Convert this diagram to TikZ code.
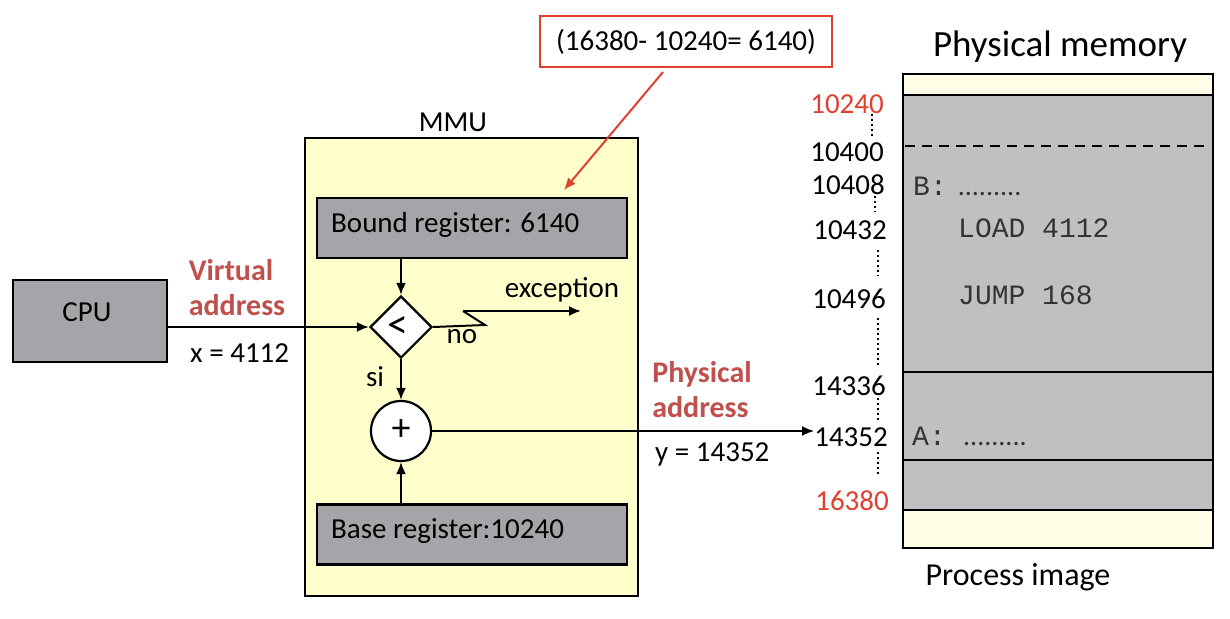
\documentclass[tikz,border=0pt]{standalone}
\usepackage{fontspec}
\setmainfont{Carlito}
\newfontfamily\monof{Liberation Mono}
\usetikzlibrary{arrows.meta,shapes.geometric}
\definecolor{regfill}{HTML}{A6A4A8}
\definecolor{memgray}{HTML}{C0C0C0}
\definecolor{cream}{HTML}{FFFDE6}
\definecolor{mmuyellow}{HTML}{FFFFCC}
\definecolor{addrred}{HTML}{E0402E}
\definecolor{labred}{HTML}{C0504D}
\tikzset{
  txt/.style={font=\fontsize{29}{34}\selectfont, inner sep=0pt},
  reg/.style={draw, line width=2.4pt, fill=regfill, minimum width=310pt, minimum height=60pt, inner sep=0pt},
  lab/.style={font=\bfseries\fontsize{30}{35}\selectfont, text=labred, inner sep=0pt, align=left},
  num/.style={font=\fontsize{29}{32}\selectfont, inner sep=0pt, anchor=east},
  mono/.style={font=\monof\fontsize{28}{32}\selectfont, inner sep=0pt, anchor=west, text=black!80},
  arr/.style={line width=2pt, -{Latex[length=12pt,width=10pt]}},
  dots/.style={line width=2.2pt, dash pattern=on 2pt off 3pt},
  sec/.style={draw, line width=2.4pt}
}
\begin{document}
\begin{tikzpicture}[x=1pt,y=-1pt]
\useasboundingbox (0,0) rectangle (1230,618);
% title and box
\node[txt, font=\fontsize{37}{42}\selectfont] (title) at (1060,47) {Physical memory};
\node[txt, font=\fontsize{32}{36}\selectfont] (pimg) at (1018,577) {Process image};
% memory sections
\path[sec, fill=cream] (903,74) rectangle (1213,95);
\path[sec, fill=memgray] (903,95) rectangle (1213,372);
\path[sec, fill=memgray] (903,372) rectangle (1213,460);
\path[sec, fill=memgray] (903,460) rectangle (1213,510);
\path[sec, fill=cream] (903,510) rectangle (1213,548);
\coordinate (dl) at (905,146);
\coordinate (dr) at (1211,146);
\draw[line width=2.2pt, dash pattern=on 10pt off 7pt] (dl) -- (dr);
% memory contents
\node[mono] (bl) at (913,186) {B:\rmfamily\ \,.........};
\node[mono] (ld) at (958,228) {LOAD 4112};
\node[mono] (jp) at (958,295) {JUMP 168};
\node[mono] (al) at (912,436) {A:\rmfamily\ \ \,.........};
% addresses
\node[num, text=addrred] (a1) at (884,104) {10240};
\node[num] (a2) at (884,152) {10400};
\node[num] (a3) at (885,185) {10408};
\node[num] (a4) at (887,230) {10432};
\node[num] (a5) at (886,299) {10496};
\node[num] (a6) at (886,386) {14336};
\node[num] (a7) at (888,437) {14352};
\node[num, text=addrred] (a8) at (889,501) {16380};
\coordinate (d1a) at (872,114); \coordinate (d1b) at (872,137);
\coordinate (d2a) at (875,196); \coordinate (d2b) at (875,212);
\coordinate (d3a) at (878,250); \coordinate (d3b) at (878,276);
\coordinate (d4a) at (878,318); \coordinate (d4b) at (878,366);
\coordinate (d5a) at (878,398); \coordinate (d5b) at (878,420);
\coordinate (d6a) at (878,452); \coordinate (d6b) at (878,476);
\draw[dots] (d1a) -- (d1b);
\draw[dots] (d2a) -- (d2b);
\draw[dots] (d3a) -- (d3b);
\draw[dots] (d4a) -- (d4b);
\draw[dots] (d5a) -- (d5b);
\draw[dots] (d6a) -- (d6b);
% MMU
\node[draw, line width=2.4pt, fill=mmuyellow, minimum width=333pt, minimum height=458pt, inner sep=0pt] (mmu) at (471.5,367) {};
\node[txt] (mmul) at (453,122) {MMU};
\node[reg] (bound) at (472,228) {};
\node[txt, anchor=west] (boundt) at (331,225) {Bound register: 6140};
\node[reg] (base) at (472,534.5) {};
\node[txt, anchor=west] (baset) at (331,531) {Base register:10240};
\node[draw, line width=2.2pt, fill=white, diamond, minimum width=62pt, minimum height=62pt, inner sep=0pt] (cmp) at (401,327) {};
\node[txt, font=\fontsize{42}{46}\selectfont] (lt) at (398,327) {<};
\node[draw, line width=2.2pt, fill=white, circle, minimum size=60pt, inner sep=0pt] (add) at (401,431) {};
\node[txt, font=\fontsize{38}{42}\selectfont] (plus) at (401,430) {+};
\draw[arr] (bound.south -| cmp) -- (cmp.north);
\draw[arr] (cmp) -- (add);
\draw[arr] (base.north -| add) -- (add.south);
\node[txt] (si) at (375,377) {si};
\node[txt] (no) at (462,337) {no};
\coordinate (z1) at (485,325);
\coordinate (z2) at (463,311);
\coordinate (exend) at (581,311);
\draw[line width=2pt] (cmp.east) -- (z1) -- (z2);
\draw[arr] (z2) -- (exend);
\node[txt] (exc) at (562,290) {exception};
% CPU
\node[draw, line width=2.4pt, fill=regfill, minimum width=154pt, minimum height=82pt, inner sep=0pt] (cpu) at (90,321) {};
\node[txt] (cput) at (87,312) {CPU};
\draw[arr] (cpu.east |- cmp) -- (cmp.west);
\node[lab] (va) at (237,288) {Virtual\\address};
\node[txt, anchor=west] (x) at (190,353) {x = 4112};
% physical address
\draw[arr] (add.east) -- (a7.west |- add);
\node[lab] (pa) at (702,390) {Physical\\address};
\node[txt, anchor=west] (y) at (655,454) {y = 14352};
% red note
\node[draw=addrred, line width=1.2pt, minimum width=292pt, minimum height=51pt, inner sep=0pt] (note) at (686,41.5) {};
\node[txt] (notet) at (686,42) {(16380- 10240= 6140)};
\coordinate (nt) at (663,72);
\coordinate (ne) at (564,190);
\draw[line width=2pt, addrred, -{Latex[length=12pt,width=10pt]}] (nt) -- (ne);
\end{tikzpicture}
\end{document}
